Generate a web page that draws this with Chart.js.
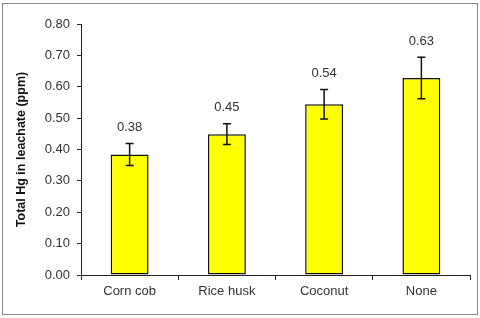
<!DOCTYPE html>
<html>
<head>
<meta charset="utf-8">
<script src="https://cdn.jsdelivr.net/npm/chart.js@4/dist/chart.umd.min.js"></script>
<style>
  html, body { margin: 0; padding: 0; background: #fff; }
  #wrap { position: relative; width: 480px; height: 318px; }
  #frame { position: absolute; left: 2px; top: 3px; width: 474px; height: 310px; border: 1px solid #8a8a8a; pointer-events: none; }
</style>
</head>
<body>
<div id="wrap">
  <canvas id="hgChart" width="480" height="318"></canvas>
  <div id="frame"></div>
</div>
<script>
const categories = ['Corn cob', 'Rice husk', 'Coconut', 'None'];
const hgValues = [0.384, 0.449, 0.544, 0.628];
const hgErrors = [0.035, 0.033, 0.047, 0.066];
const yTicks = [0, 0.1, 0.2, 0.3, 0.4, 0.5, 0.6, 0.7, 0.8];

const fontFamily = '"Liberation Sans", Arial, sans-serif';

// error bars + value labels, drawn through the y scale
const errorBarPlugin = {
  id: 'errorBars',
  afterDatasetsDraw(chart) {
    const ctx = chart.ctx;
    const yScale = chart.scales.y;
    const meta = chart.getDatasetMeta(0);
    ctx.save();
    meta.data.forEach((bar, i) => {
      const x = bar.x;
      const top = yScale.getPixelForValue(hgValues[i] + hgErrors[i]);
      const bottom = yScale.getPixelForValue(hgValues[i] - hgErrors[i]);
      ctx.strokeStyle = '#111';
      ctx.lineWidth = 1.5;
      ctx.beginPath();
      ctx.moveTo(x, top);
      ctx.lineTo(x, bottom);
      ctx.moveTo(x - 4, top);
      ctx.lineTo(x + 4, top);
      ctx.moveTo(x - 4, bottom);
      ctx.lineTo(x + 4, bottom);
      ctx.stroke();

      ctx.fillStyle = '#333';
      ctx.font = '13px ' + fontFamily;
      ctx.textAlign = 'center';
      ctx.textBaseline = 'middle';
      ctx.fillText(hgValues[i].toFixed(2), x, top - 16);
    });
    ctx.restore();
  }
};

new Chart(document.getElementById('hgChart').getContext('2d'), {
  type: 'bar',
  data: {
    labels: categories,
    datasets: [{
      data: hgValues,
      backgroundColor: '#ffff00',
      borderColor: '#111',
      borderWidth: 1.5,
      borderSkipped: false,
      barPercentage: 0.39,
      categoryPercentage: 1.0
    }]
  },
  options: {
    responsive: false,
    animation: false,
    layout: { padding: { left: 0, right: 10, top: 24, bottom: 13 } },
    plugins: {
      legend: { display: false },
      tooltip: { enabled: false }
    },
    scales: {
      x: {
        afterFit(scale) { scale.height = 30; },
        border: { color: '#222', width: 1 },
        grid: { offset: true, drawOnChartArea: false, drawTicks: true, tickLength: 5, color: '#222' },
        ticks: { color: '#333', padding: 4, font: { family: fontFamily, size: 13 } }
      },
      y: {
        min: 0,
        max: 0.8,
        afterFit(scale) { scale.width = 81; },
        afterBuildTicks(scale) { scale.ticks = yTicks.map(v => ({ value: v })); },
        border: { color: '#222', width: 1 },
        grid: { drawOnChartArea: false, drawTicks: true, tickLength: 4, color: '#222' },
        ticks: {
          color: '#333',
          padding: 7,
          font: { family: fontFamily, size: 13 },
          callback: (v) => Number(v).toFixed(2)
        },
        title: {
          display: true,
          text: 'Total Hg in leachate (ppm)',
          color: '#111',
          padding: { top: 14, bottom: 0 },
          font: { family: fontFamily, size: 12.5, weight: 'bold' }
        }
      }
    }
  },
  plugins: [errorBarPlugin]
});
</script>
</body>
</html>
